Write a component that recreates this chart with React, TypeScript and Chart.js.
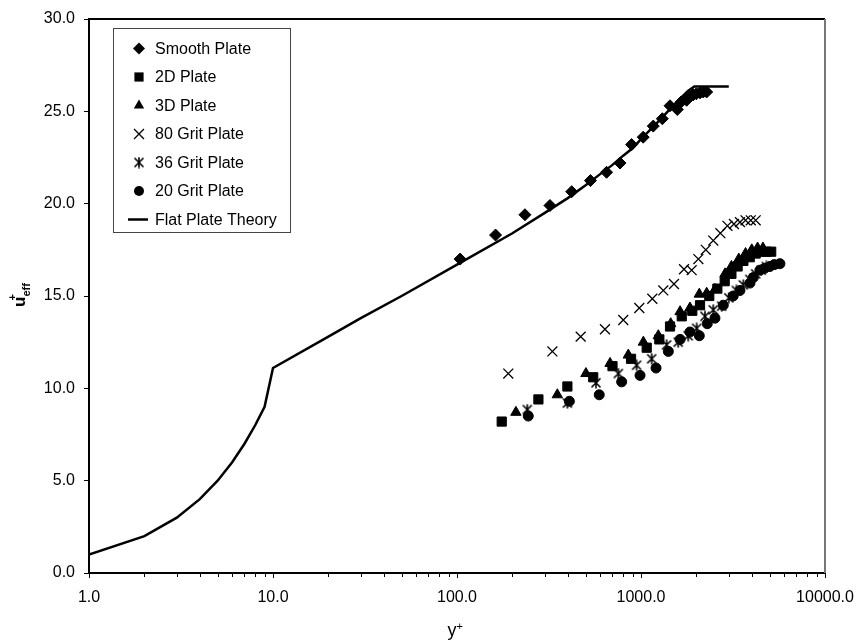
import React, { useEffect, useRef } from 'react';
import { Chart, registerables } from 'chart.js';

Chart.register(...registerables);

// ---- data ----
const theoryYPlus = [1, 2, 3, 4, 5, 6, 7, 8, 9, 10, 20, 30, 50, 100, 200, 300, 400, 500, 600, 700, 800, 900, 1000, 1200, 1400, 1600, 1800, 1950, 3000];
const theoryU = [1, 2, 3, 4, 5, 6, 7, 8, 9, 11.1, 12.8, 13.8, 15.0, 16.7, 18.4, 19.5, 20.3, 21.0, 21.6, 22.1, 22.6, 23.0, 23.5, 24.3, 25.0, 25.6, 26.1, 26.35, 26.35];

const smoothX = [104, 162, 234, 320, 420, 531, 650, 769, 889, 1028, 1166, 1306, 1438, 1575, 1650, 1770, 1850, 1924, 2000, 2093, 2180, 2275];
const smoothU = [17.0, 18.3, 19.4, 19.9, 20.65, 21.25, 21.7, 22.2, 23.2, 23.6, 24.2, 24.6, 25.3, 25.1, 25.5, 25.6, 25.8, 25.9, 25.95, 26.0, 26.05, 26.05];

const plate2DX = [175, 277, 398, 550, 700, 883, 1074, 1258, 1438, 1665, 1900, 2093, 2350, 2600, 2850, 3100, 3350, 3600, 3900, 4200, 4500, 4800, 5100];
const plate2DU = [8.2, 9.4, 10.1, 10.6, 11.2, 11.6, 12.2, 12.65, 13.35, 13.9, 14.2, 14.5, 15.0, 15.4, 15.8, 16.2, 16.6, 16.9, 17.1, 17.3, 17.4, 17.4, 17.4];

const plate3DX = [209, 351, 502, 679, 853, 1030, 1242, 1450, 1631, 1845, 2074, 2275, 2523, 2863, 3100, 3400, 3700, 4000, 4300, 4600];
const plate3DU = [8.7, 9.65, 10.8, 11.35, 11.8, 12.5, 12.85, 13.5, 14.15, 14.35, 15.1, 15.15, 15.35, 16.2, 16.6, 17.0, 17.3, 17.5, 17.6, 17.6];

const grit80X = [190, 330, 470, 637, 801, 979, 1152, 1322, 1511, 1713, 1885, 2050, 2250, 2470, 2700, 2950, 3200, 3450, 3700, 3950, 4200];
const grit80U = [10.8, 12.0, 12.8, 13.2, 13.7, 14.35, 14.85, 15.3, 15.65, 16.45, 16.4, 17.0, 17.5, 18.0, 18.4, 18.8, 18.9, 19.0, 19.1, 19.1, 19.1];

const grit36X = [241, 398, 569, 753, 946, 1143, 1378, 1593, 1806, 2006, 2227, 2470, 2743, 3000, 3300, 3600, 3900, 4200, 4500, 4800];
const grit36U = [8.85, 9.2, 10.3, 10.8, 11.25, 11.6, 12.35, 12.5, 12.85, 13.25, 13.9, 14.25, 14.45, 14.9, 15.3, 15.6, 15.9, 16.2, 16.4, 16.6];

const grit20X = [244, 408, 593, 785, 988, 1207, 1408, 1631, 1845, 2074, 2291, 2523, 2800, 3170, 3450, 3910, 4075, 4436, 4700, 5020, 5300, 5690];
const grit20U = [8.5, 9.3, 9.65, 10.35, 10.7, 11.1, 12.0, 12.65, 13.05, 12.85, 13.5, 13.8, 14.5, 15.0, 15.3, 15.7, 16.0, 16.4, 16.5, 16.6, 16.7, 16.75];

const xMajorTicks = [1, 10, 100, 1000, 10000];
const yTicks = [0, 5, 10, 15, 20, 25, 30];

const FONT = '"Liberation Sans", Arial, Helvetica, sans-serif';

function pts(xs: number[], ys: number[]) {
  return xs.map((x, i) => ({ x, y: ys[i] }));
}

function makeAsterisk(): HTMLCanvasElement {
  const c = document.createElement('canvas');
  c.width = 12;
  c.height = 12;
  const g = c.getContext('2d')!;
  g.strokeStyle = '#000';
  g.lineWidth = 1.6;
  g.beginPath();
  g.moveTo(1.5, 1.5); g.lineTo(10.5, 10.5);
  g.moveTo(10.5, 1.5); g.lineTo(1.5, 10.5);
  g.moveTo(6, 0.5); g.lineTo(6, 11.5);
  g.stroke();
  return c;
}

function drawMarker(ctx: CanvasRenderingContext2D, style: any, r: number, x: number, y: number) {
  ctx.beginPath();
  if (style instanceof HTMLCanvasElement) {
    ctx.drawImage(style, x - style.width / 2, y - style.height / 2);
    return;
  }
  switch (style) {
    case 'rectRot':
      ctx.moveTo(x, y - r); ctx.lineTo(x + r, y); ctx.lineTo(x, y + r); ctx.lineTo(x - r, y); ctx.closePath();
      ctx.fill();
      break;
    case 'rect': {
      const s = Math.SQRT1_2 * r;
      ctx.rect(x - s, y - s, 2 * s, 2 * s);
      ctx.fill();
      break;
    }
    case 'triangle': {
      ctx.moveTo(x, y - r);
      ctx.lineTo(x + r * Math.sin(Math.PI / 3), y + r / 2);
      ctx.lineTo(x - r * Math.sin(Math.PI / 3), y + r / 2);
      ctx.closePath();
      ctx.fill();
      break;
    }
    case 'crossRot': {
      const o = Math.SQRT1_2 * r;
      ctx.moveTo(x - o, y - o); ctx.lineTo(x + o, y + o);
      ctx.moveTo(x + o, y - o); ctx.lineTo(x - o, y + o);
      ctx.stroke();
      break;
    }
    case 'circle':
    default:
      ctx.arc(x, y, r, 0, Math.PI * 2);
      ctx.fill();
  }
}

export default function App() {
  const ref = useRef<HTMLCanvasElement | null>(null);

  useEffect(() => {
    if (!ref.current) return;
    const asterisk = makeAsterisk();

    const overlay = {
      id: 'overlay',
      afterDraw(chart: any) {
        const ctx = chart.ctx as CanvasRenderingContext2D;
        const { left, right, top, bottom } = chart.chartArea;
        const xs = chart.scales.x;
        ctx.save();
        // top and right frame
        ctx.lineWidth = 2;
        ctx.strokeStyle = '#000';
        ctx.beginPath();
        ctx.moveTo(left, top);
        ctx.lineTo(right, top);
        ctx.stroke();
        ctx.strokeStyle = '#777';
        ctx.beginPath();
        ctx.moveTo(right, top);
        ctx.lineTo(right, bottom);
        ctx.stroke();
        // minor ticks
        ctx.strokeStyle = '#000';
        ctx.lineWidth = 1;
        ctx.beginPath();
        for (let d = 1; d < 10000; d *= 10) {
          for (let m = 2; m <= 9; m++) {
            const px = Math.round(xs.getPixelForValue(d * m)) + 0.5;
            ctx.moveTo(px, bottom);
            ctx.lineTo(px, bottom + 4);
          }
        }
        ctx.stroke();

        // legend
        const lx = 113, ly = 28, lw = 177, lh = 204;
        ctx.fillStyle = '#fff';
        ctx.fillRect(lx, ly, lw, lh);
        ctx.strokeStyle = '#444';
        ctx.lineWidth = 1;
        ctx.strokeRect(lx + 0.5, ly + 0.5, lw, lh);
        ctx.font = `16px ${FONT}`;
        ctx.textBaseline = 'middle';
        ctx.textAlign = 'left';
        chart.data.datasets.forEach((ds: any, i: number) => {
          const cy = 48.5 + i * 28.5;
          ctx.fillStyle = '#000';
          ctx.strokeStyle = '#000';
          if (ds.showLine) {
            ctx.lineWidth = 2.5;
            ctx.beginPath();
            ctx.moveTo(128, cy);
            ctx.lineTo(148, cy);
            ctx.stroke();
          } else {
            ctx.lineWidth = ds.borderWidth || 1;
            drawMarker(ctx, ds.pointStyle, ds.pointRadius, 139, cy);
          }
          ctx.fillStyle = '#000';
          ctx.fillText(ds.label, 155, cy + 1);
        });

        // y axis title
        ctx.save();
        ctx.translate(0, 295);
        ctx.rotate(-Math.PI / 2);
        ctx.textBaseline = 'alphabetic';
        ctx.fillStyle = '#000';
        ctx.font = `bold 17px ${FONT}`;
        const wu = ctx.measureText('u').width;
        ctx.font = `bold 11px ${FONT}`;
        const we = ctx.measureText('eff').width;
        const total = wu + we;
        const x0 = -total / 2;
        ctx.font = `bold 17px ${FONT}`;
        ctx.fillText('u', x0, 25);
        ctx.font = `bold 11px ${FONT}`;
        ctx.fillText('+', x0 + wu - 4, 15.5);
        ctx.fillText('eff', x0 + wu, 30);
        ctx.restore();

        // x axis title
        ctx.textBaseline = 'alphabetic';
        ctx.textAlign = 'left';
        ctx.font = `18px ${FONT}`;
        const wy = ctx.measureText('y').width;
        ctx.fillText('y', 452 - wy / 2, 636);
        ctx.font = `11px ${FONT}`;
        ctx.fillText('+', 452 + wy / 2, 630);
        ctx.restore();
      },
    };

    const scatterBase = { showLine: false, borderColor: '#000', backgroundColor: '#000' };

    const chart = new Chart(ref.current, {
      type: 'scatter',
      data: {
        datasets: [
          { ...scatterBase, label: 'Smooth Plate', data: pts(smoothX, smoothU), pointStyle: 'rectRot', pointRadius: 6, borderWidth: 1 },
          { ...scatterBase, label: '2D Plate', data: pts(plate2DX, plate2DU), pointStyle: 'rect', pointRadius: 6.5, borderWidth: 1 },
          { ...scatterBase, label: '3D Plate', data: pts(plate3DX, plate3DU), pointStyle: 'triangle', pointRadius: 6, borderWidth: 1 },
          { ...scatterBase, label: '80 Grit Plate', data: pts(grit80X, grit80U), pointStyle: 'crossRot', pointRadius: 7, borderWidth: 1.3 },
          { ...scatterBase, label: '36 Grit Plate', data: pts(grit36X, grit36U), pointStyle: asterisk as any, pointRadius: 6, borderWidth: 1 },
          { ...scatterBase, label: '20 Grit Plate', data: pts(grit20X, grit20U), pointStyle: 'circle', pointRadius: 5, borderWidth: 1 },
          { label: 'Flat Plate Theory', data: pts(theoryYPlus, theoryU), showLine: true, borderColor: '#000', backgroundColor: '#000', borderWidth: 2.5, pointRadius: 0, tension: 0 } as any,
        ],
      },
      options: {
        responsive: false,
        animation: false,
        layout: { padding: { left: 0, top: 19, right: 31, bottom: 0 } },
        plugins: { legend: { display: false }, tooltip: { enabled: false } },
        scales: {
          x: {
            type: 'logarithmic',
            min: 1,
            max: 10000,
            afterBuildTicks: (s: any) => {
              s.ticks = xMajorTicks.map((v) => ({ value: v, major: true }));
            },
            afterFit: (s: any) => { s.height = 71; s.paddingLeft = 0; s.paddingRight = 0; },
            ticks: {
              autoSkip: false,
              maxRotation: 0,
              padding: 10,
              color: '#000',
              font: { family: FONT, size: 16 },
              callback: (v: any) => Number(v).toFixed(1),
            },
            grid: { display: true, drawOnChartArea: false, drawTicks: true, tickLength: 5, tickColor: '#000', tickWidth: 1 },
            border: { display: true, color: '#000', width: 2 },
          },
          y: {
            min: 0,
            max: 30,
            afterBuildTicks: (s: any) => {
              s.ticks = yTicks.map((v) => ({ value: v }));
            },
            afterFit: (s: any) => { s.width = 89; s.paddingTop = 0; s.paddingBottom = 0; },
            ticks: {
              padding: 9,
              color: '#000',
              font: { family: FONT, size: 16 },
              callback: (v: any) => Number(v).toFixed(1),
            },
            grid: { display: true, drawOnChartArea: false, drawTicks: true, tickLength: 5, tickColor: '#000', tickWidth: 1 },
            border: { display: true, color: '#000', width: 2 },
          },
        },
      },
      plugins: [overlay],
    });

    return () => chart.destroy();
  }, []);

  return (
    <div style={{ position: 'fixed', left: 0, top: 0, width: 856, height: 644, background: '#fff' }}>
      <canvas ref={ref} width={856} height={644} style={{ display: 'block' }} />
    </div>
  );
}
